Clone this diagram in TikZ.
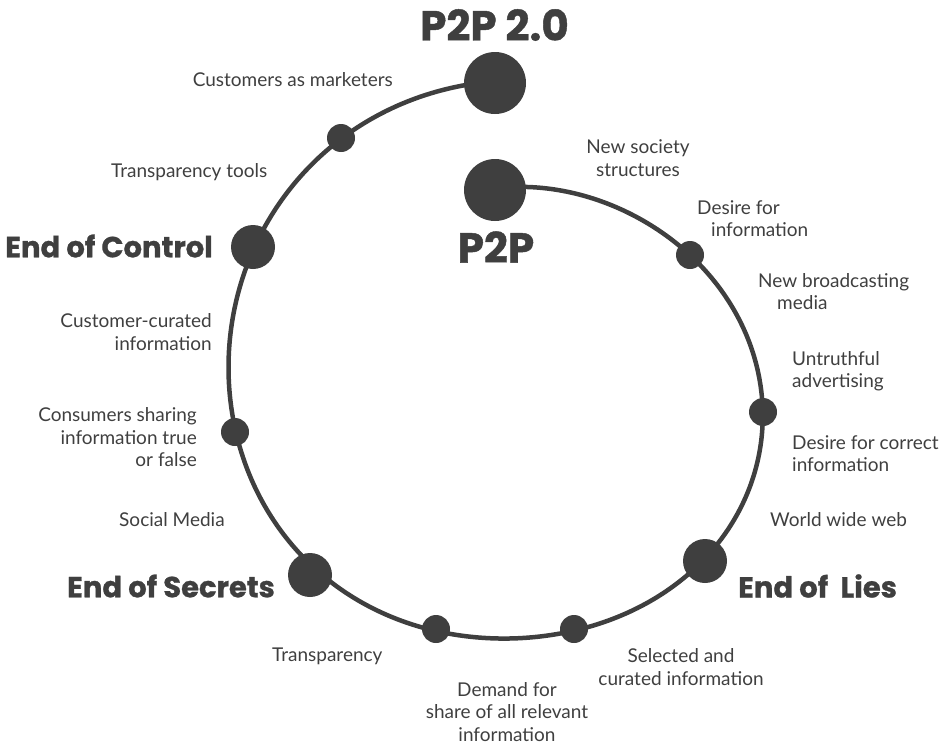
\documentclass[tikz,border=0pt]{standalone}
\usepackage{fontspec}
\setmainfont{Lato}
\newfontfamily\headfont{Poppins}[BoldFeatures={FakeBold=1}]
\definecolor{ink}{HTML}{3F3F3F}
\begin{document}
\begin{tikzpicture}[x=1pt,y=-1pt,
  declare function={rr(\t)=205.542+0.297*\t+11.47*cos(\t)+20.15*sin(\t)-6.92*cos(2*\t)-4.19*sin(2*\t)+2.08*cos(3*\t)-2.83*sin(3*\t);
                    px(\t)=500+rr(\t)*sin(\t); py(\t)=400-rr(\t)*cos(\t);},
  lbl/.style={inner sep=0pt, text=ink, font=\fontsize{19}{22.5}\selectfont},
  head/.style={inner sep=0pt, text=ink, font=\headfont\bfseries\fontsize{29}{31}\selectfont},
  title/.style={inner sep=0pt, text=ink, font=\headfont\bfseries\fontsize{42}{44}\selectfont},
  bigdot/.style={circle, fill=ink, minimum size=62pt, inner sep=0pt},
  middot/.style={circle, fill=ink, minimum size=44pt, inner sep=0pt},
  smalldot/.style={circle, fill=ink, minimum size=28pt, inner sep=0pt},
  spiral/.style={draw=ink, line width=4.5pt}]
\useasboundingbox (0,0) rectangle (948,744);
% dots
\coordinate (pP2P) at (495,190);
\coordinate (pA) at (690,255);
\coordinate (pB) at (763,412);
\coordinate (pLies) at (705,561);
\coordinate (pC) at (574,629);
\coordinate (pD) at (436,629);
\coordinate (pSecrets) at (310,575);
\coordinate (pE) at (235,432);
\coordinate (pControl) at (253,247);
\coordinate (pF) at (341,138);
\coordinate (pP2Pb) at (495,83);
% spiral (angle clockwise from the top)
\draw[spiral] plot[domain=-1.4:359.1, samples=180, smooth, variable=\t] ({px(\t)},{py(\t)});
\node[bigdot] (nP2P) at (pP2P) {};
\node[bigdot] (nP2Pb) at (pP2Pb) {};
\node[smalldot] (nA) at (pA) {};
\node[smalldot] (nB) at (pB) {};
\node[middot] (nLies) at (pLies) {};
\node[smalldot] (nC) at (pC) {};
\node[smalldot] (nD) at (pD) {};
\node[middot] (nSecrets) at (pSecrets) {};
\node[smalldot] (nE) at (pE) {};
\node[middot] (nControl) at (pControl) {};
\node[smalldot] (nF) at (pF) {};
% headings
\node[title] (tP2Pb) at (494.5,25) {P2P 2.0};
\node[title] (tP2P) at (496,247) {P2P};
\node[head, anchor=east] (tControl) at (213,246) {End of Control};
\node[head, anchor=east] (tSecrets) at (275,586) {End of Secrets};
\node[head, anchor=west] (tLies) at (738,586) {End of\ \ Lies};
% labels
\node[lbl, anchor=east] (lCust) at (393,80) {Customers as marketers};
\node[lbl, anchor=west] (lTools) at (111,172) {Transparency tools};
\node[lbl, align=center] (lSoc) at (638,158) {New society\\structures};
\node[lbl, anchor=west, align=left] (lDesire) at (697,218.5) {Desire for\\\hspace*{14pt}information};
\node[lbl, anchor=west, align=left] (lBroad) at (758,291.5) {New broadcasting\\\hspace*{19pt}media};
\node[lbl, anchor=west, align=left] (lUntr) at (792,371) {Untruthful\\advertising};
\node[lbl, anchor=west, align=left] (lCorr) at (792,453.5) {Desire for correct\\information};
\node[lbl, anchor=west] (lWeb) at (770,520) {World wide web};
\node[lbl, align=center] (lSel) at (681,667) {Selected and\\curated information};
\node[lbl, align=center] (lDem) at (507,712) {Demand for\\share of all relevant\\information};
\node[lbl, anchor=west] (lTransp) at (272,656) {Transparency};
\node[lbl, anchor=west] (lSocial) at (119,520) {Social Media};
\node[lbl, anchor=east, align=right] (lCons) at (197,437.5) {Consumers sharing\\information true\\or false};
\node[lbl, anchor=east, align=right] (lCCur) at (212,332) {Customer-curated\\information};
\end{tikzpicture}
\end{document}
